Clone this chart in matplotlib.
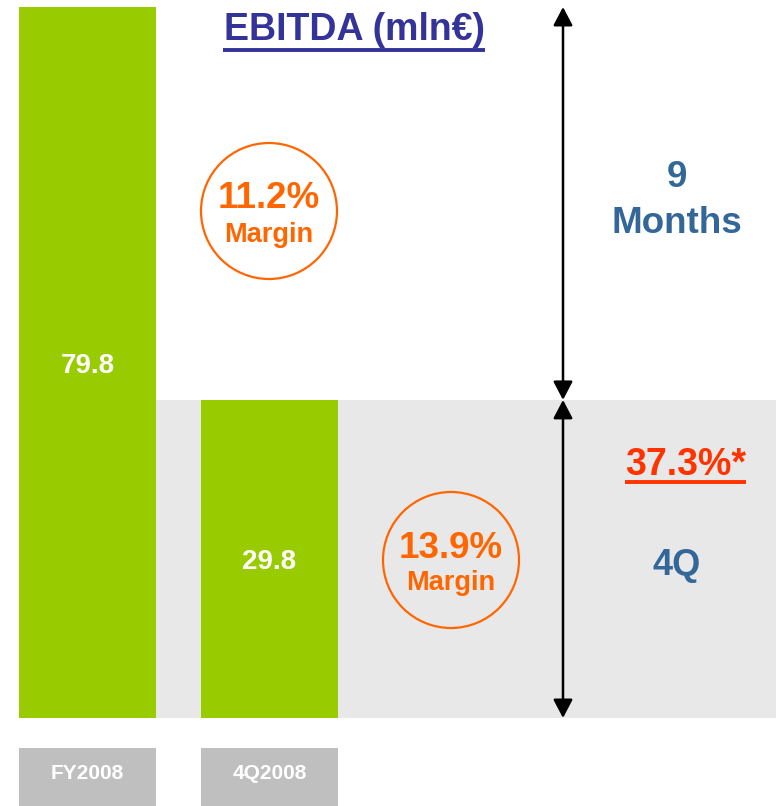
import matplotlib
matplotlib.use("Agg")
import matplotlib.pyplot as plt
from matplotlib.patches import Circle

plt.rcParams['font.family'] = ['Liberation Sans', 'DejaVu Sans']
plt.rcParams['font.weight'] = 'bold'

# data
categories = ["FY2008", "4Q2008"]
values = [79.8, 29.8]            # EBITDA (mln EUR), shown as labels
bar_heights = [79.8, 35.7]       # heights as drawn on the slide (not to scale)
margins = ["11.2%", "13.9%"]
period_labels = ["9", "Months", "4Q"]
growth = "37.3%*"

green = "#99CC00"
orange = "#FF6600"
blue = "#336699"

fig = plt.figure(figsize=(7.76, 8.06), dpi=100)

# main axes: y = 0 at pixel row 718, 79.8 at pixel row 7
ax = fig.add_axes([0, 88 / 806, 1, 718 / 806])
ax.set_ylim(0, 79.8 * 718 / 711)
ax.set_xlim(-87.5 / 182, (776 - 87.5) / 182)
ax.axis('off')

x = [0, 1]
w = 0.758
ax.fill_between([w / 2, ax.get_xlim()[1]], 0, bar_heights[1], color="#E8E8E8", lw=0, zorder=0)
ax.bar(x, bar_heights, width=w, color=green, zorder=2)
for xi, h, v in zip(x, bar_heights, values):
    ax.text(xi, h / 2, f"{v:.1f}", ha='center', va='center_baseline', color='white',
            fontsize=20, fontweight='bold', zorder=3)

# double arrows: 9 months part and 4Q part
xa = (563 - 87.5) / 182
arrow = dict(arrowstyle="<|-|>,head_length=0.8,head_width=0.42", color='black', lw=1.8,
             mutation_scale=14, shrinkA=0, shrinkB=0)
ax.annotate("", xy=(xa, values[0]), xytext=(xa, bar_heights[1]), arrowprops=arrow)
ax.annotate("", xy=(xa, bar_heights[1]), xytext=(xa, 0), arrowprops=arrow)

# category boxes at the bottom
ax2 = fig.add_axes([0, 0, 1, 58 / 806])
ax2.set_xlim(ax.get_xlim())
ax2.set_ylim(0, 1)
ax2.axis('off')
ax2.bar(x, 1, width=0.753, color="#BFBFBF")
for xi, c in zip(x, categories):
    ax2.text(xi, 0.59, c, ha='center', va='center_baseline', color='white', fontsize=15,
             fontweight='bold')

# overlay in pixel units for annotations
ov = fig.add_axes([0, 0, 1, 1])
ov.set_xlim(0, 776)
ov.set_ylim(806, 0)
ov.axis('off')
ov.patch.set_alpha(0)

ov.text(354, 40, "EBITDA (mln€)", ha='center', va='baseline', color="#333399", fontsize=27)
ov.plot([223, 485], [50, 50], color="#333399", lw=2.8, solid_capstyle='butt')

for (cx, cy), m in zip([(269, 211), (451, 560)], margins):
    ov.add_patch(Circle((cx, cy), 68, fill=False, ec=orange, lw=1.6))
    ov.text(cx, cy - 2.5, m, ha='center', va='baseline', color=orange, fontsize=26.5)
    ov.text(cx, cy + 30.5, "Margin", ha='center', va='baseline', color=orange, fontsize=19.5)

ov.text(677, 187, period_labels[0], ha='center', va='baseline', color=blue, fontsize=26.5)
ov.text(677, 233, period_labels[1], ha='center', va='baseline', color=blue, fontsize=26.5)
ov.text(677, 575, period_labels[2], ha='center', va='baseline', color=blue, fontsize=26)

ov.text(686, 475, growth, ha='center', va='baseline', color="#FF3300", fontsize=27)
ov.plot([625, 746], [482, 482], color="#FF3300", lw=2.8, solid_capstyle='butt')

fig.savefig("out.png", dpi=100)
